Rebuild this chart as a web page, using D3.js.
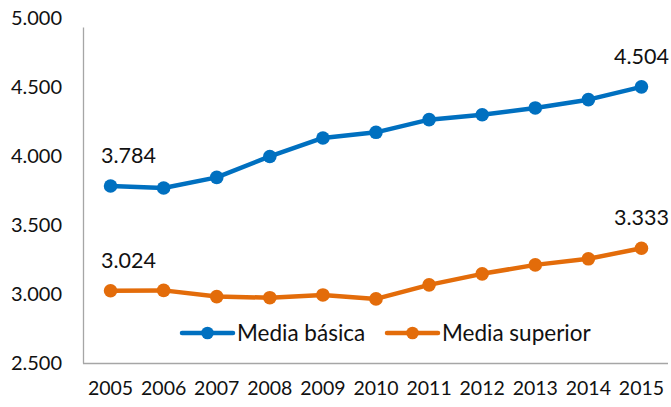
<!DOCTYPE html>
<html><head><meta charset="utf-8">
<script src="https://cdn.jsdelivr.net/npm/d3@7/dist/d3.min.js"></script>
<style>body{margin:0;background:#fff}svg{display:block}</style>
</head><body>
<script>
const years = ["2005","2006","2007","2008","2009","2010","2011","2012","2013","2014","2015"];
const mediaBasica = [3784,3770,3847,3999,4133,4174,4266,4302,4351,4411,4504];
const mediaSuperior = [3024,3027,2982,2974,2994,2965,3067,3147,3212,3256,3333];
const seriesNames = ["Media básica","Media superior"];
const seriesColors = ["#0070C0","#E36C0A"];
const yTicks = [2500,3000,3500,4000,4500,5000];

const W=671,H=407;
const svg=d3.select("body").append("svg").attr("width",W).attr("height",H);
const font="Lato, 'Open Sans', sans-serif";
const textCol="#111";
const x=d3.scaleBand().domain(years).range([84,668]);
const y=d3.scaleLinear().domain([2500,5000]).range([363,18.5]);
const fmt3=v=>{const s=String(v);return s.length>3?s.slice(0,s.length-3)+"."+s.slice(-3):s;};

// y axis labels
const ya=svg.append("g").attr("transform","translate(62,0)")
  .call(d3.axisLeft(y).tickValues(yTicks).tickSize(0).tickPadding(0).tickFormat(fmt3));
ya.select(".domain").remove();
ya.selectAll("text").attr("font-family",font).attr("font-size",20).attr("fill",textCol);

// axis lines
svg.append("line").attr("x1",83.5).attr("x2",83.5).attr("y1",y(5000)+9).attr("y2",363.5).attr("stroke","#a6a6a6").attr("stroke-width",1.3);
svg.append("line").attr("x1",83).attr("x2",668).attr("y1",363.5).attr("y2",363.5).attr("stroke","#a6a6a6").attr("stroke-width",1.3);

// x axis labels
const xa=svg.append("g").attr("transform","translate(0,381)")
  .call(d3.axisBottom(x).tickSize(0).tickPadding(0));
xa.select(".domain").remove();
xa.selectAll("text").attr("font-family",font).attr("font-size",19.5).attr("fill",textCol).attr("dy","0.72em");

const cx=d=>x(d)+x.bandwidth()/2;
const data=[mediaBasica,mediaSuperior];
data.forEach((vals,i)=>{
  const pts=years.map((yr,j)=>({yr,v:vals[j]}));
  svg.append("path").datum(pts).attr("fill","none").attr("stroke",seriesColors[i]).attr("stroke-width",4.5)
    .attr("stroke-linejoin","round").attr("stroke-linecap","round")
    .attr("d",d3.line().x(d=>cx(d.yr)).y(d=>y(d.v)));
  svg.append("g").selectAll("circle").data(pts).join("circle")
    .attr("cx",d=>cx(d.yr)).attr("cy",d=>y(d.v)).attr("r",6.8).attr("fill",seriesColors[i]);
  const first=pts[0], last=pts[pts.length-1];
  svg.append("text").attr("x",cx(first.yr)+18).attr("y",y(first.v)-23).attr("text-anchor","middle")
    .attr("font-family",font).attr("font-size",21.5).attr("fill",textCol).text(fmt3(first.v));
  svg.append("text").attr("x",cx(last.yr)).attr("y",y(last.v)-23).attr("text-anchor","middle")
    .attr("font-family",font).attr("font-size",21.5).attr("fill",textCol).text(fmt3(last.v));
});

// legend
const legX=[182,387];
seriesNames.forEach((n,i)=>{
  const g=svg.append("g").attr("transform",`translate(${legX[i]},333)`);
  g.append("line").attr("x1",0).attr("x2",51).attr("y1",0).attr("y2",0).attr("stroke",seriesColors[i]).attr("stroke-width",4.5).attr("stroke-linecap","round");
  g.append("circle").attr("cx",25.5).attr("cy",0).attr("r",6.3).attr("fill",seriesColors[i]);
  g.append("text").attr("x",55).attr("y",0).attr("dy","0.36em").attr("font-family",font).attr("font-size",22.5).attr("fill",textCol).text(n);
});
</script>
</body></html>
